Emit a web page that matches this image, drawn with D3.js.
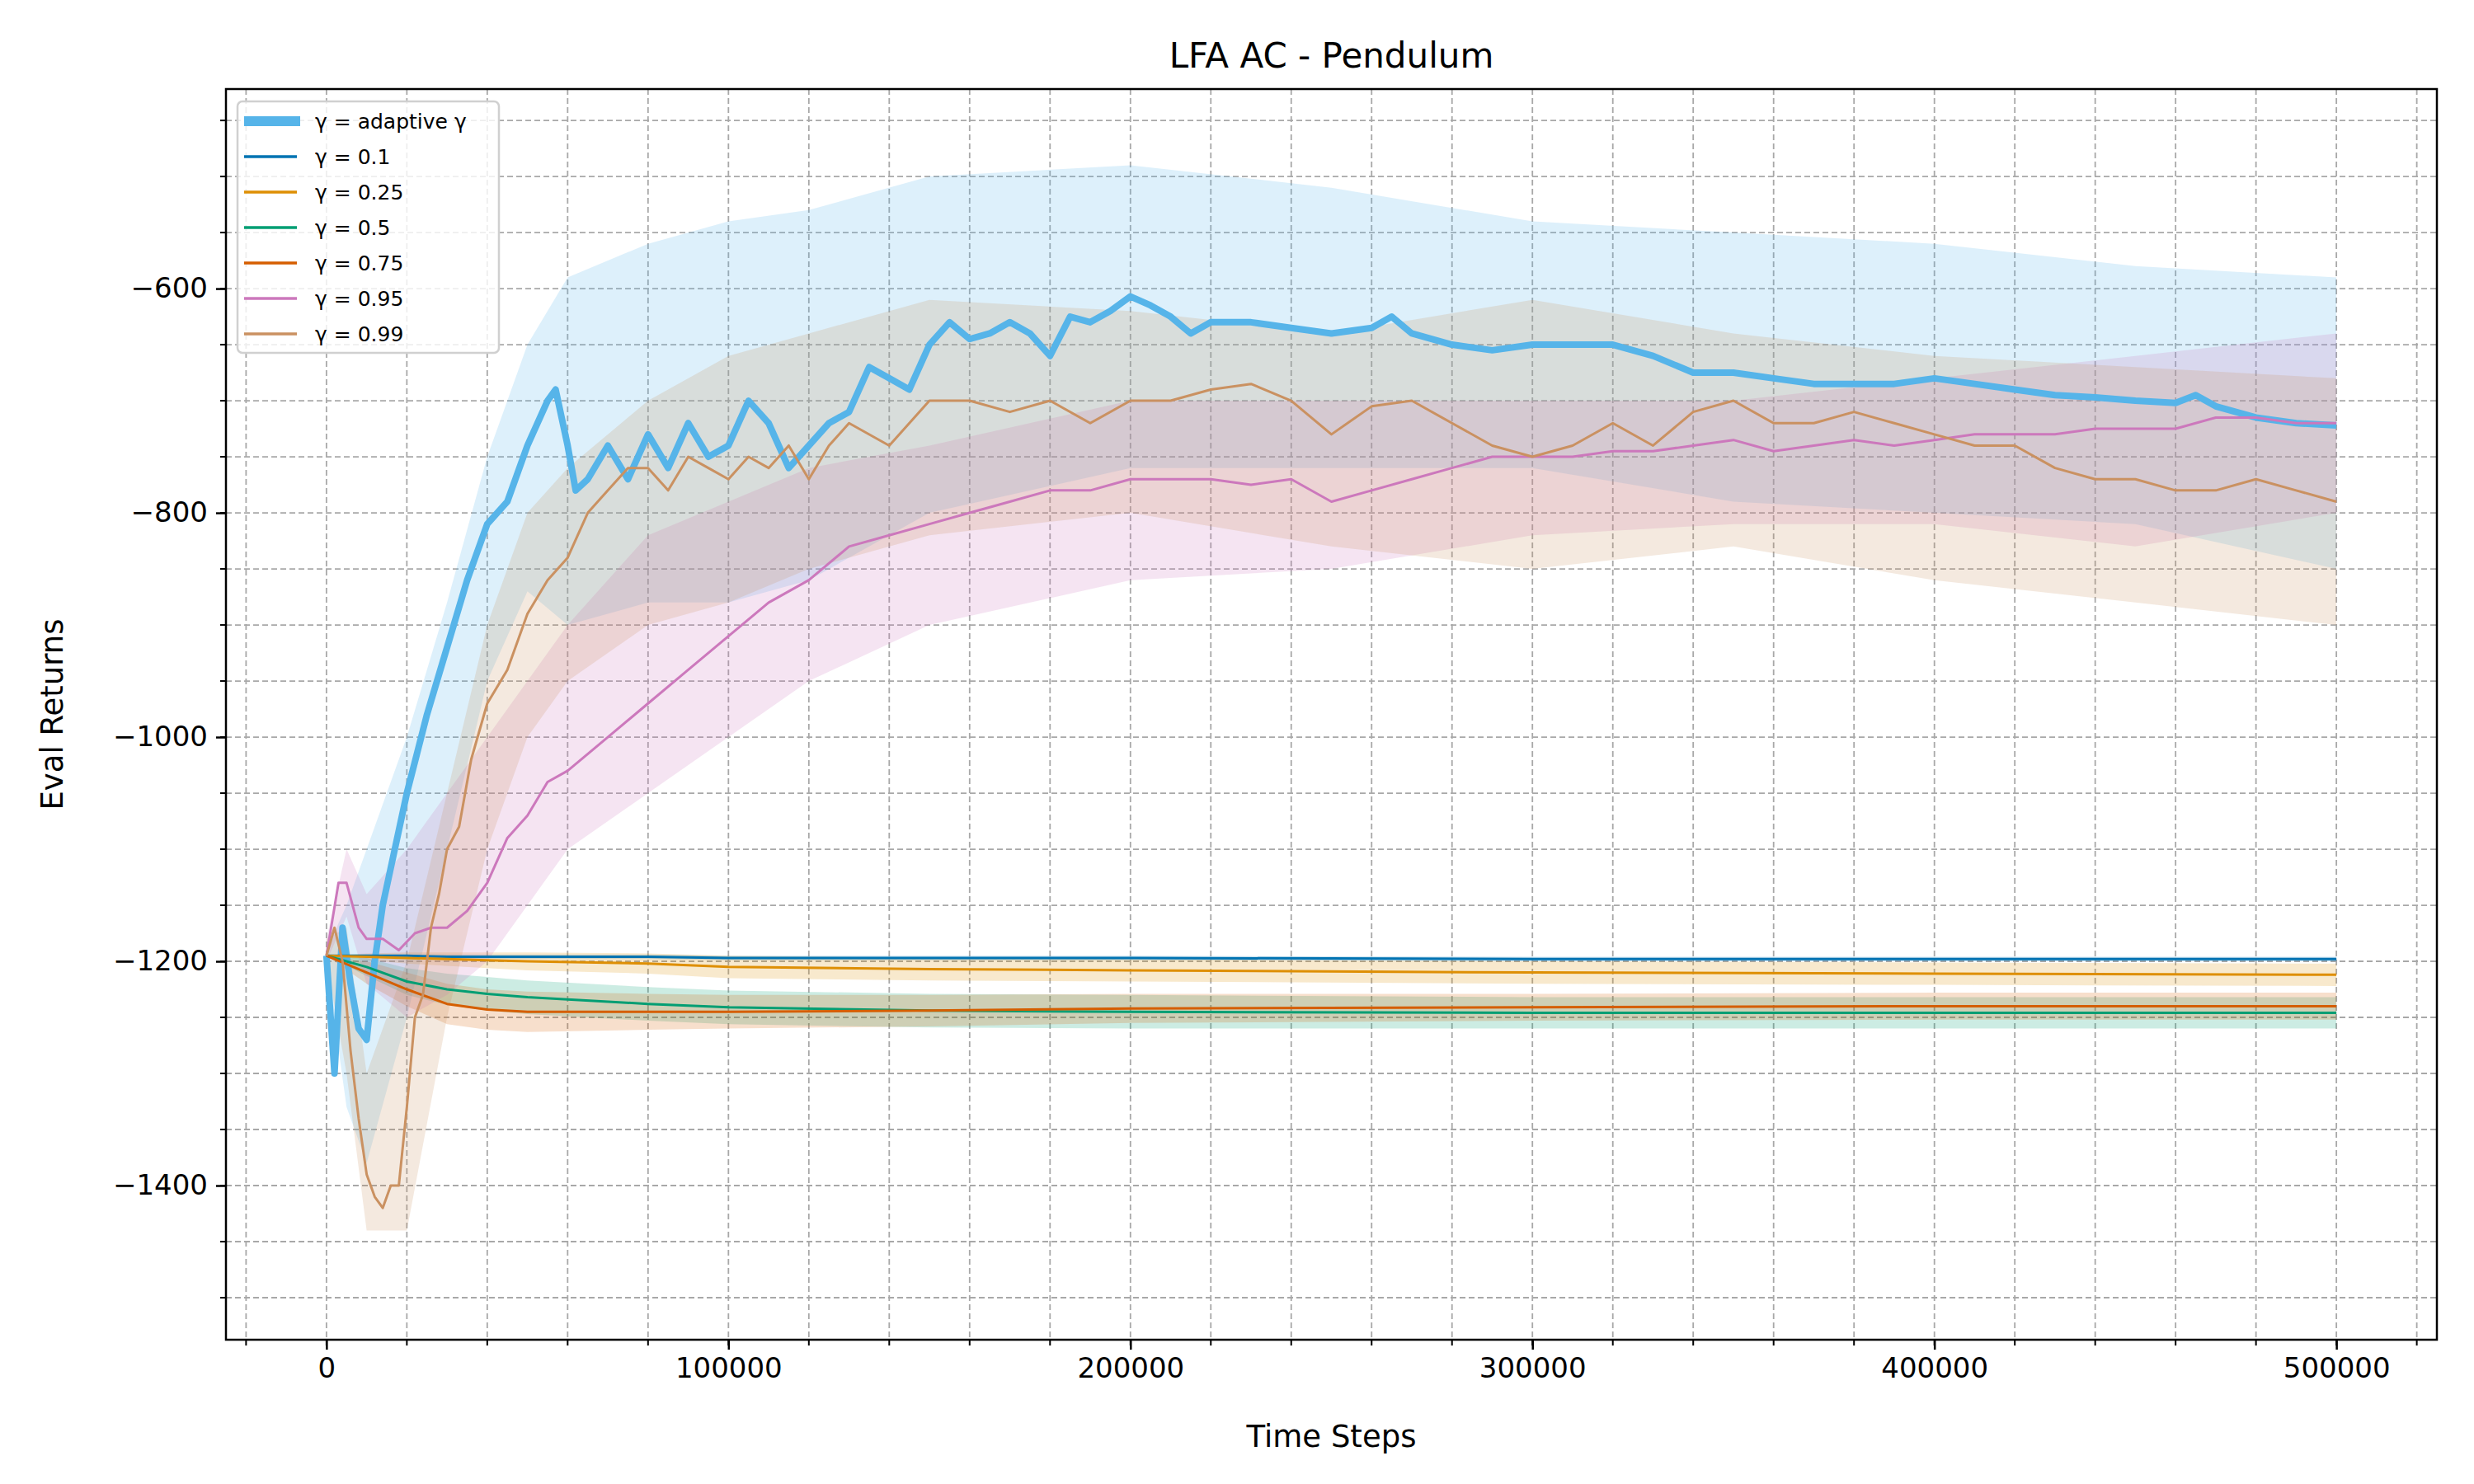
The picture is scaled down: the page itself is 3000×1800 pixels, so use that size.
<!DOCTYPE html>
<html><head><meta charset="utf-8">
<script src="https://cdn.jsdelivr.net/npm/d3@7"></script>
<style>body{margin:0;background:#fff}text{font-family:"DejaVu Sans",sans-serif}</style>
</head><body><svg id="c" width="3000" height="1800"></svg>
<script>
const bandX=[0,5000,10000,20000,30000,40000,50000,60000,80000,100000,120000,150000,200000,250000,300000,350000,400000,450000,500000];
const adaptiveX=[0,2000,4000,6000,8000,10000,12000,14000,17000,20000,25000,30000,35000,40000,45000,50000,55000,57000,60000,62000,65000,70000,75000,80000,85000,90000,95000,100000,105000,110000,115000,120000,125000,130000,135000,140000,145000,150000,155000,160000,165000,170000,175000,180000,185000,190000,195000,200000,205000,210000,215000,220000,230000,240000,250000,260000,265000,270000,280000,290000,300000,310000,320000,330000,340000,350000,360000,370000,380000,390000,400000,410000,420000,430000,440000,450000,460000,465000,470000,480000,490000,500000];
const adaptiveY=[-1195,-1300,-1170,-1220,-1260,-1270,-1200,-1150,-1100,-1050,-980,-920,-860,-810,-790,-740,-700,-690,-740,-780,-770,-740,-770,-730,-760,-720,-750,-740,-700,-720,-760,-740,-720,-710,-670,-680,-690,-650,-630,-645,-640,-630,-640,-660,-625,-630,-620,-607,-615,-625,-640,-630,-630,-635,-640,-635,-625,-640,-650,-655,-650,-650,-650,-660,-675,-675,-680,-685,-685,-685,-680,-685,-690,-695,-697,-700,-702,-695,-705,-715,-720,-722];
const adaptiveUp=[-1190,-1150,-1100,-1000,-880,-750,-650,-590,-560,-540,-530,-500,-490,-510,-540,-550,-560,-580,-590];
const adaptiveLo=[-1200,-1330,-1380,-1250,-1100,-950,-870,-900,-880,-880,-860,-800,-760,-760,-760,-790,-800,-810,-850];
const g99X=[0,2000,4000,6000,8000,10000,12000,14000,16000,18000,20000,22000,24000,26000,28000,30000,33000,36000,40000,45000,50000,55000,60000,65000,70000,75000,80000,85000,90000,95000,100000,105000,110000,115000,120000,125000,130000,140000,150000,160000,170000,180000,190000,200000,210000,220000,230000,240000,250000,260000,270000,280000,290000,300000,310000,320000,330000,340000,350000,360000,370000,380000,390000,400000,410000,420000,430000,440000,450000,460000,470000,480000,490000,500000];
const g99Y=[-1195,-1170,-1200,-1280,-1340,-1390,-1410,-1420,-1400,-1400,-1330,-1250,-1230,-1170,-1140,-1100,-1080,-1020,-970,-940,-890,-860,-840,-800,-780,-760,-760,-780,-750,-760,-770,-750,-760,-740,-770,-740,-720,-740,-700,-700,-710,-700,-720,-700,-700,-690,-685,-700,-730,-705,-700,-720,-740,-750,-740,-720,-740,-710,-700,-720,-720,-710,-720,-730,-740,-740,-760,-770,-770,-780,-780,-770,-780,-790];
const g99Up=[-1180,-1170,-1300,-1200,-1050,-900,-800,-760,-700,-660,-640,-610,-620,-640,-610,-640,-660,-670,-680];
const g99Lo=[-1200,-1300,-1440,-1440,-1250,-1100,-1000,-950,-900,-880,-850,-820,-800,-830,-850,-830,-860,-880,-900];
const g95X=[0,3000,5000,8000,10000,14000,18000,22000,26000,30000,35000,40000,45000,50000,55000,60000,70000,80000,90000,100000,110000,120000,130000,140000,150000,160000,170000,180000,190000,200000,210000,220000,230000,240000,250000,260000,270000,280000,290000,300000,310000,320000,330000,340000,350000,360000,370000,380000,390000,400000,410000,420000,430000,440000,450000,460000,470000,480000,490000,500000];
const g95Y=[-1195,-1130,-1130,-1170,-1180,-1180,-1190,-1175,-1170,-1170,-1155,-1130,-1090,-1070,-1040,-1030,-1000,-970,-940,-910,-880,-860,-830,-820,-810,-800,-790,-780,-780,-770,-770,-770,-775,-770,-790,-780,-770,-760,-750,-750,-750,-745,-745,-740,-735,-745,-740,-735,-740,-735,-730,-730,-730,-725,-725,-725,-715,-715,-720,-720];
const g95Up=[-1180,-1100,-1140,-1100,-1050,-1000,-950,-900,-820,-790,-760,-740,-700,-700,-700,-700,-680,-660,-640];
const g95Lo=[-1200,-1160,-1220,-1250,-1230,-1200,-1150,-1100,-1050,-1000,-950,-900,-860,-850,-820,-810,-810,-830,-800];
const flatX=[0,10000,20000,30000,40000,50000,80000,100000,150000,200000,300000,400000,500000];
const g01Y=[-1195,-1195,-1195,-1196,-1196,-1196,-1196,-1197,-1197,-1197,-1198,-1198,-1198];
const g025Y=[-1195,-1196,-1197,-1198,-1199,-1200,-1202,-1205,-1207,-1208,-1210,-1211,-1212];
const g05Y=[-1195,-1205,-1218,-1225,-1229,-1232,-1238,-1241,-1244,-1245,-1246,-1246,-1246];
const g075Y=[-1195,-1210,-1225,-1238,-1243,-1245,-1245,-1245,-1244,-1242,-1241,-1240,-1240];
const g01Spread=[0,1,1,2,2,2,2,2,2,2,2,2,2];
const g025Spread=[0,3,5,6,7,8,9,10,10,10,10,10,10];
const g05Spread=[0,8,12,14,15,15,15,15,15,15,14,14,14];
const g075Spread=[0,10,15,18,18,18,16,15,14,13,12,12,12];
const labels=["γ = adaptive γ","γ = 0.1","γ = 0.25","γ = 0.5","γ = 0.75","γ = 0.95","γ = 0.99"];
const colors=["#56b4e9","#0173b2","#de8f05","#029e73","#d55e00","#cc78bc","#ca9161"];

const svg=d3.select("#c");
const L=274,R=2955,T=108,B=1625;
const x=d3.scaleLinear().domain([-25000,525000]).range([L,R]);
const y=d3.scaleLinear().domain([-1537.5,-422]).range([B,T]);
const gc="#a8a8a8";
const xMinor=d3.range(-20000,525001,20000), yMinor=d3.range(-1500,-449,50);
svg.append("g").selectAll("line").data(xMinor).join("line").attr("x1",d=>x(d)).attr("x2",d=>x(d)).attr("y1",T).attr("y2",B).attr("stroke",gc).attr("stroke-width",1.8).attr("stroke-dasharray","7,4");
svg.append("g").selectAll("line").data(yMinor).join("line").attr("y1",d=>y(d)).attr("y2",d=>y(d)).attr("x1",L).attr("x2",R).attr("stroke",gc).attr("stroke-width",1.8).attr("stroke-dasharray","7,4");
function band(xs,lo,hi,c){svg.append("path").datum(xs.map((d,i)=>[d,lo[i],hi[i]])).attr("d",d3.area().x(d=>x(d[0])).y0(d=>y(d[1])).y1(d=>y(d[2]))).attr("fill",c).attr("opacity",0.2);}
band(bandX,adaptiveLo,adaptiveUp,colors[0]);
const fl=[[g01Y,g01Spread,1],[g025Y,g025Spread,2],[g05Y,g05Spread,3],[g075Y,g075Spread,4]];
fl.forEach(([ys,sp,ci])=>band(flatX,ys.map((v,i)=>v-sp[i]),ys.map((v,i)=>v+sp[i]),colors[ci]));
band(bandX,g95Lo,g95Up,colors[5]);
band(bandX,g99Lo,g99Up,colors[6]);
function line(xs,ys,c,w){svg.append("path").datum(xs.map((d,i)=>[d,ys[i]])).attr("d",d3.line().x(d=>x(d[0])).y(d=>y(d[1]))).attr("fill","none").attr("stroke",c).attr("stroke-width",w).attr("stroke-linejoin","round");}
line(adaptiveX,adaptiveY,colors[0],8);
line(flatX,g01Y,colors[1],3);line(flatX,g025Y,colors[2],3);line(flatX,g05Y,colors[3],3);line(flatX,g075Y,colors[4],3);
line(g95X,g95Y,colors[5],3);line(g99X,g99Y,colors[6],3);
const xa=svg.append("g").attr("transform",`translate(0,${B})`).call(d3.axisBottom(x).tickValues(d3.range(0,500001,100000)).tickFormat(d3.format("d")).tickSize(12).tickPadding(10));
const ya=svg.append("g").attr("transform",`translate(${L},0)`).call(d3.axisLeft(y).tickValues([-1400,-1200,-1000,-800,-600]).tickFormat(d=>"−"+Math.abs(d)).tickSize(12).tickPadding(10));
[xa,ya].forEach(a=>{a.select(".domain").remove();a.selectAll("text").attr("font-size",34).attr("font-family","DejaVu Sans").attr("fill","#000");a.selectAll("line").attr("stroke-width",2.5);});
svg.append("g").selectAll("line").data(xMinor).join("line").attr("x1",d=>x(d)).attr("x2",d=>x(d)).attr("y1",B).attr("y2",B+7).attr("stroke","#000").attr("stroke-width",2);
svg.append("g").selectAll("line").data(yMinor).join("line").attr("y1",d=>y(d)).attr("y2",d=>y(d)).attr("x1",L).attr("x2",L-7).attr("stroke","#000").attr("stroke-width",2);
svg.append("rect").attr("x",L).attr("y",T).attr("width",R-L).attr("height",B-T).attr("fill","none").attr("stroke","#000").attr("stroke-width",2.5);
svg.append("text").attr("x",(L+R)/2).attr("y",82).attr("text-anchor","middle").attr("font-size",42).text("LFA AC - Pendulum");
svg.append("text").attr("x",(L+R)/2).attr("y",1755).attr("text-anchor","middle").attr("font-size",37).text("Time Steps");
svg.append("text").attr("transform",`translate(76,${(T+B)/2}) rotate(-90)`).attr("text-anchor","middle").attr("font-size",37).text("Eval Returns");
const lg=svg.append("g");
lg.append("rect").attr("x",288).attr("y",123).attr("width",317).attr("height",305).attr("rx",6).attr("fill","#fff").attr("fill-opacity",0.8).attr("stroke","#d0d0d0").attr("stroke-width",2.5);
labels.forEach((t,i)=>{const yy=147+i*43;
 lg.append("line").attr("x1",296).attr("x2",i?360:364).attr("y1",yy).attr("y2",yy).attr("stroke",colors[i]).attr("stroke-width",i?3.5:12);
 lg.append("text").attr("x",382).attr("y",yy+9).attr("font-size",25).text(t);});
</script></body></html>
